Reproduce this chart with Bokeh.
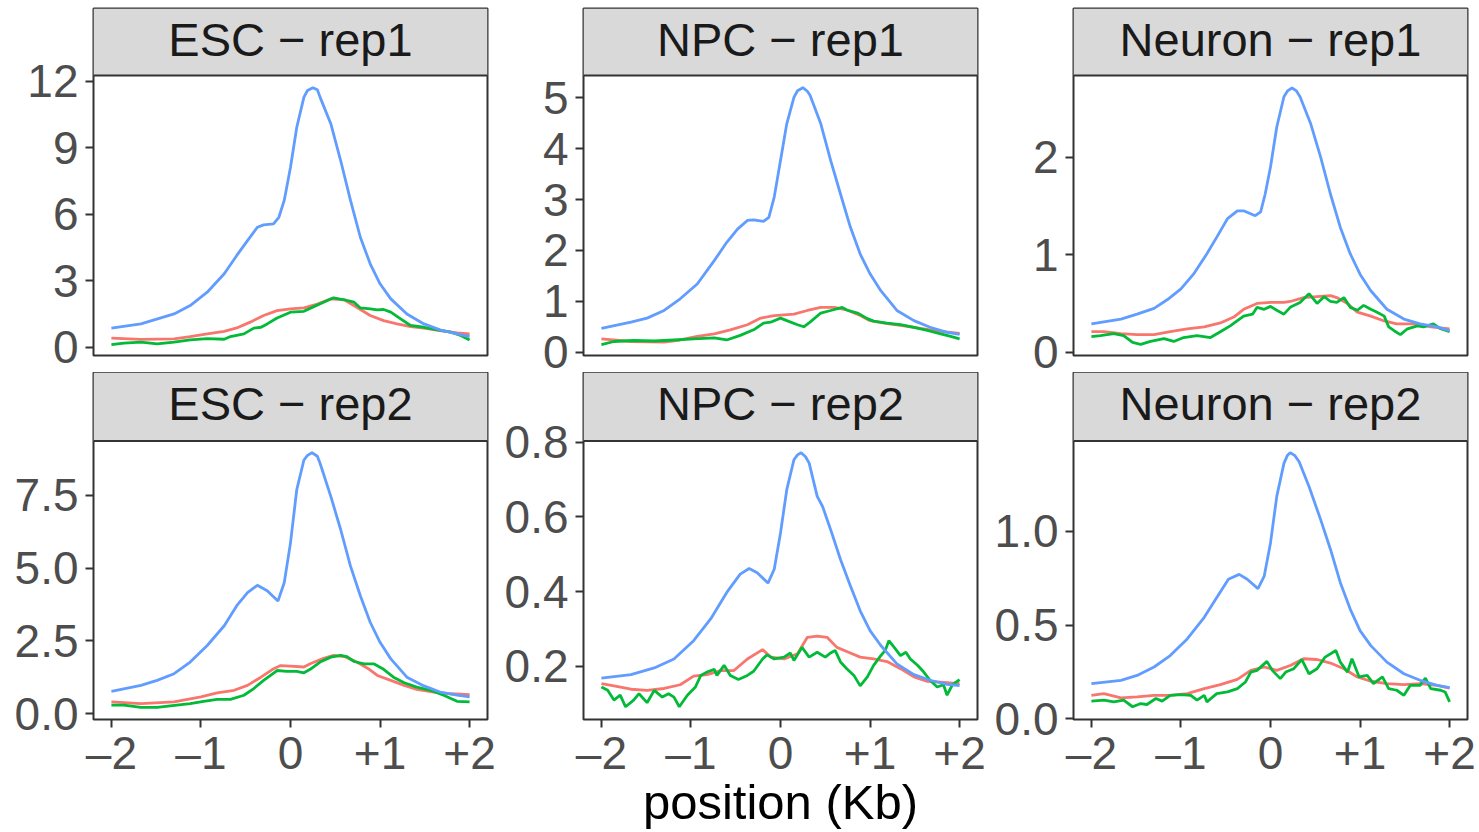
from bokeh.plotting import figure
from bokeh.layouts import gridplot
from bokeh.models import Range1d, FixedTicker, PrintfTickFormatter, Label, Span
from bokeh.embed import file_html
from bokeh.resources import INLINE

FONT = "Liberation Sans"
RED, GREEN, BLUE = "#F8766D", "#00BA38", "#619CFF"

# ---------------- data (position in Kb, signal) ----------------
# ESC - rep1
esc1_blue_x = [-2.00,-1.67,-1.30,-1.12,-0.93,-0.74,-0.60,-0.48,-0.37,-0.30,-0.19,-0.13,-0.07,0.00,0.07,0.15,0.19,0.25,0.30,0.33,0.45,0.56,0.67,0.78,0.89,1.00,1.12,1.30,1.49,1.67,1.86,2.00]
esc1_blue_y = [0.86,1.05,1.50,1.88,2.48,3.31,4.14,4.81,5.41,5.52,5.56,5.86,6.62,8.12,9.92,11.28,11.58,11.70,11.61,11.28,10.08,8.42,6.62,4.96,3.76,2.86,2.18,1.50,1.05,0.78,0.60,0.48]
esc1_red_x = [-2.00,-1.67,-1.30,-1.12,-0.93,-0.74,-0.60,-0.45,-0.30,-0.15,0.00,0.15,0.30,0.45,0.60,0.74,0.89,1.04,1.19,1.34,1.49,1.67,1.86,2.00]
esc1_red_y = [0.41,0.35,0.38,0.48,0.60,0.71,0.87,1.13,1.43,1.65,1.73,1.77,1.95,2.18,2.14,1.80,1.43,1.20,1.05,0.93,0.86,0.75,0.65,0.60]
esc1_green_x = [-2.00,-1.86,-1.67,-1.49,-1.30,-1.12,-0.93,-0.74,-0.67,-0.52,-0.41,-0.33,-0.26,-0.15,0.00,0.15,0.26,0.37,0.48,0.60,0.71,0.78,0.89,0.97,1.04,1.12,1.23,1.34,1.49,1.64,1.79,1.90,2.00]
esc1_green_y = [0.12,0.18,0.23,0.15,0.23,0.33,0.39,0.36,0.48,0.60,0.86,0.90,1.05,1.32,1.58,1.62,1.83,2.03,2.23,2.14,2.03,1.77,1.73,1.68,1.70,1.58,1.28,0.98,0.90,0.78,0.68,0.53,0.33]

# NPC - rep1
npc1_blue_x = [-2.00,-1.67,-1.49,-1.30,-1.12,-0.93,-0.74,-0.60,-0.48,-0.37,-0.30,-0.19,-0.13,-0.07,0.00,0.07,0.15,0.19,0.25,0.30,0.33,0.45,0.56,0.67,0.78,0.89,1.00,1.12,1.30,1.49,1.67,1.86,2.00]
npc1_blue_y = [0.47,0.59,0.67,0.82,1.05,1.34,1.80,2.16,2.42,2.59,2.60,2.57,2.65,3.05,3.77,4.49,5.01,5.14,5.20,5.13,5.05,4.49,3.77,3.11,2.46,1.93,1.54,1.21,0.82,0.62,0.49,0.39,0.35]
npc1_red_x = [-2.00,-1.67,-1.30,-1.12,-0.93,-0.74,-0.56,-0.37,-0.22,-0.07,0.15,0.30,0.45,0.60,0.74,0.89,1.00,1.19,1.38,1.56,1.79,2.00]
npc1_red_y = [0.26,0.21,0.20,0.24,0.31,0.36,0.44,0.54,0.67,0.72,0.75,0.82,0.88,0.88,0.83,0.72,0.62,0.56,0.52,0.47,0.41,0.37]
npc1_green_x = [-2.00,-1.86,-1.64,-1.41,-1.19,-0.97,-0.74,-0.60,-0.45,-0.30,-0.19,-0.11,0.00,0.07,0.19,0.26,0.33,0.45,0.56,0.69,0.74,0.86,0.97,1.04,1.19,1.34,1.49,1.64,1.79,1.90,2.00]
npc1_green_y = [0.15,0.21,0.23,0.22,0.24,0.26,0.28,0.24,0.33,0.44,0.57,0.59,0.67,0.62,0.54,0.50,0.59,0.77,0.82,0.88,0.83,0.77,0.66,0.61,0.57,0.54,0.49,0.43,0.36,0.31,0.26]

# Neuron - rep1
neu1_blue_x = [-2.00,-1.67,-1.49,-1.30,-1.15,-1.00,-0.86,-0.71,-0.60,-0.48,-0.37,-0.30,-0.17,-0.11,-0.06,0.00,0.07,0.15,0.19,0.24,0.29,0.33,0.45,0.56,0.67,0.78,0.89,1.00,1.12,1.30,1.49,1.67,1.86,2.00]
neu1_blue_y = [0.29,0.34,0.39,0.45,0.54,0.65,0.80,1.01,1.18,1.37,1.45,1.45,1.40,1.44,1.62,1.90,2.31,2.62,2.68,2.71,2.68,2.62,2.34,2.00,1.62,1.28,1.01,0.80,0.63,0.44,0.34,0.29,0.26,0.22]
neu1_red_x = [-2.00,-1.86,-1.67,-1.49,-1.30,-1.12,-0.93,-0.74,-0.56,-0.41,-0.30,-0.15,0.00,0.15,0.22,0.37,0.52,0.67,0.74,0.86,0.97,1.12,1.27,1.41,1.64,1.79,2.00]
neu1_red_y = [0.21,0.21,0.19,0.18,0.18,0.21,0.24,0.26,0.30,0.36,0.44,0.50,0.51,0.51,0.52,0.56,0.57,0.58,0.56,0.50,0.41,0.37,0.32,0.29,0.29,0.26,0.24]
neu1_green_x = [-2.00,-1.90,-1.75,-1.64,-1.54,-1.45,-1.34,-1.19,-1.08,-0.97,-0.82,-0.67,-0.56,-0.45,-0.30,-0.20,-0.15,-0.07,0.00,0.07,0.15,0.22,0.33,0.43,0.52,0.60,0.67,0.74,0.82,0.89,0.97,1.04,1.12,1.19,1.27,1.32,1.38,1.45,1.53,1.64,1.71,1.82,1.90,2.00]
neu1_green_y = [0.16,0.17,0.19,0.17,0.10,0.08,0.11,0.14,0.11,0.15,0.17,0.15,0.21,0.27,0.37,0.39,0.46,0.44,0.47,0.43,0.39,0.46,0.51,0.60,0.50,0.57,0.52,0.51,0.56,0.46,0.43,0.48,0.44,0.41,0.37,0.26,0.22,0.18,0.24,0.27,0.26,0.29,0.24,0.21]

# ESC - rep2
esc2_blue_x = [-2.00,-1.67,-1.49,-1.30,-1.12,-0.93,-0.74,-0.60,-0.48,-0.37,-0.26,-0.14,-0.07,0.00,0.07,0.15,0.19,0.24,0.30,0.33,0.45,0.56,0.67,0.78,0.89,1.00,1.12,1.30,1.49,1.67,1.86,2.00]
esc2_blue_y = [0.76,0.97,1.14,1.37,1.77,2.34,3.02,3.71,4.16,4.41,4.22,3.87,4.50,5.87,7.70,8.72,8.88,8.97,8.85,8.61,7.47,6.33,5.07,4.05,3.14,2.45,1.88,1.25,0.95,0.74,0.63,0.57]
esc2_red_x = [-2.00,-1.67,-1.30,-1.00,-0.82,-0.63,-0.48,-0.33,-0.20,-0.11,0.00,0.15,0.22,0.37,0.48,0.60,0.74,0.86,0.97,1.12,1.27,1.41,1.60,1.79,2.00]
esc2_red_y = [0.40,0.34,0.40,0.57,0.71,0.80,0.97,1.25,1.52,1.65,1.63,1.60,1.71,1.90,2.00,1.96,1.77,1.56,1.31,1.14,0.97,0.83,0.74,0.68,0.65]
esc2_green_x = [-2.00,-1.86,-1.67,-1.49,-1.27,-1.12,-0.97,-0.82,-0.67,-0.52,-0.41,-0.30,-0.15,-0.04,0.07,0.15,0.22,0.33,0.45,0.56,0.63,0.71,0.82,0.93,1.04,1.15,1.27,1.41,1.56,1.71,1.86,2.00]
esc2_green_y = [0.29,0.29,0.21,0.21,0.29,0.34,0.42,0.49,0.49,0.63,0.86,1.14,1.48,1.45,1.45,1.40,1.52,1.77,1.94,2.00,1.96,1.79,1.71,1.71,1.52,1.25,1.06,0.91,0.80,0.63,0.42,0.40]

# NPC - rep2
npc2_blue_x = [-2.00,-1.67,-1.41,-1.19,-0.97,-0.78,-0.60,-0.45,-0.35,-0.26,-0.14,-0.07,0.00,0.07,0.15,0.19,0.23,0.28,0.32,0.41,0.47,0.56,0.67,0.78,0.89,1.00,1.12,1.30,1.49,1.67,1.86,2.00]
npc2_blue_y = [0.169,0.178,0.196,0.220,0.269,0.327,0.398,0.447,0.462,0.451,0.423,0.460,0.557,0.673,0.753,0.766,0.772,0.761,0.744,0.655,0.628,0.566,0.486,0.416,0.349,0.296,0.256,0.207,0.178,0.163,0.152,0.149]
npc2_red_x = [-2.00,-1.86,-1.67,-1.49,-1.30,-1.12,-0.97,-0.82,-0.67,-0.52,-0.37,-0.20,-0.11,0.04,0.19,0.30,0.41,0.52,0.63,0.74,0.89,1.04,1.19,1.34,1.49,1.64,1.79,2.00]
npc2_red_y = [0.154,0.148,0.139,0.136,0.141,0.151,0.174,0.178,0.189,0.189,0.220,0.245,0.225,0.220,0.234,0.278,0.281,0.278,0.251,0.240,0.225,0.220,0.213,0.194,0.172,0.160,0.158,0.154]
npc2_green_x = [-2.00,-1.93,-1.86,-1.79,-1.73,-1.64,-1.58,-1.49,-1.41,-1.32,-1.25,-1.19,-1.13,-1.04,-0.95,-0.89,-0.82,-0.74,-0.71,-0.63,-0.56,-0.47,-0.37,-0.30,-0.20,-0.15,-0.07,0.04,0.11,0.15,0.24,0.32,0.41,0.50,0.56,0.61,0.67,0.74,0.82,0.89,0.97,1.04,1.12,1.17,1.21,1.27,1.34,1.40,1.45,1.53,1.60,1.67,1.75,1.82,1.86,1.92,2.00]
npc2_green_y = [0.145,0.136,0.110,0.123,0.092,0.110,0.127,0.103,0.136,0.118,0.127,0.118,0.092,0.123,0.145,0.176,0.185,0.192,0.176,0.203,0.176,0.165,0.176,0.187,0.220,0.231,0.220,0.225,0.236,0.216,0.251,0.225,0.238,0.225,0.236,0.243,0.212,0.194,0.176,0.148,0.172,0.203,0.229,0.243,0.269,0.251,0.229,0.238,0.220,0.203,0.185,0.163,0.145,0.151,0.123,0.151,0.165]

# Neuron - rep2
neu2_blue_x = [-2.00,-1.67,-1.49,-1.30,-1.12,-0.93,-0.74,-0.60,-0.47,-0.35,-0.26,-0.14,-0.07,0.00,0.07,0.15,0.19,0.22,0.27,0.32,0.43,0.56,0.67,0.78,0.89,1.00,1.12,1.30,1.49,1.67,1.86,2.00]
neu2_blue_y = [0.187,0.205,0.231,0.276,0.337,0.426,0.541,0.647,0.744,0.770,0.744,0.694,0.761,0.938,1.186,1.362,1.406,1.419,1.405,1.371,1.239,1.062,0.903,0.726,0.585,0.470,0.390,0.302,0.240,0.205,0.178,0.166]
neu2_red_x = [-2.00,-1.86,-1.67,-1.49,-1.30,-1.12,-0.93,-0.74,-0.56,-0.37,-0.22,-0.07,0.07,0.22,0.37,0.52,0.67,0.82,0.97,1.12,1.30,1.49,1.67,1.86,2.00]
neu2_red_y = [0.125,0.134,0.111,0.117,0.125,0.125,0.134,0.161,0.182,0.210,0.258,0.276,0.258,0.284,0.320,0.316,0.297,0.267,0.223,0.200,0.187,0.182,0.187,0.178,0.164]
neu2_green_x = [-2.00,-1.86,-1.75,-1.64,-1.54,-1.45,-1.38,-1.28,-1.21,-1.12,-1.00,-0.89,-0.82,-0.74,-0.71,-0.60,-0.48,-0.37,-0.28,-0.22,-0.15,-0.04,0.02,0.11,0.17,0.26,0.35,0.43,0.52,0.61,0.73,0.78,0.86,0.91,0.99,1.08,1.15,1.25,1.32,1.41,1.49,1.56,1.67,1.73,1.79,1.90,1.95,2.00]
neu2_green_y = [0.094,0.099,0.090,0.099,0.064,0.081,0.076,0.108,0.094,0.125,0.129,0.125,0.099,0.125,0.090,0.134,0.143,0.161,0.196,0.249,0.258,0.306,0.258,0.214,0.249,0.267,0.316,0.240,0.267,0.329,0.364,0.302,0.249,0.320,0.223,0.231,0.187,0.223,0.161,0.152,0.125,0.178,0.178,0.217,0.161,0.152,0.143,0.090]

panel_titles = ["ESC \u2212 rep1", "NPC \u2212 rep1", "Neuron \u2212 rep1",
                "ESC \u2212 rep2", "NPC \u2212 rep2", "Neuron \u2212 rep2"]
y_ticks = [[0, 3, 6, 9, 12], [0, 1, 2, 3, 4, 5], [0, 1, 2],
           [0, 2.5, 5, 7.5], [0.2, 0.4, 0.6, 0.8], [0, 0.5, 1.0]]
y_formats = ["%d", "%d", "%d", "%.1f", "%.1f", "%.1f"]
y_limits = [(-0.374, 12.255), (-0.065, 5.44), (-0.034, 2.838),
            (-0.205, 9.37), (0.058, 0.803), (-0.004, 1.481)]
x_ticks = [-2, -1, 0, 1, 2]
x_tick_labels = ["\u20132", "\u20131", "0", "+1", "+2"]
x_title = "position (Kb)"

series = [
    [(esc1_red_x, esc1_red_y), (esc1_green_x, esc1_green_y), (esc1_blue_x, esc1_blue_y)],
    [(npc1_red_x, npc1_red_y), (npc1_green_x, npc1_green_y), (npc1_blue_x, npc1_blue_y)],
    [(neu1_red_x, neu1_red_y), (neu1_green_x, neu1_green_y), (neu1_blue_x, neu1_blue_y)],
    [(esc2_red_x, esc2_red_y), (esc2_green_x, esc2_green_y), (esc2_blue_x, esc2_blue_y)],
    [(npc2_red_x, npc2_red_y), (npc2_green_x, npc2_green_y), (npc2_blue_x, npc2_blue_y)],
    [(neu2_red_x, neu2_red_y), (neu2_green_x, neu2_green_y), (neu2_blue_x, neu2_blue_y)],
]
colors = [RED, GREEN, BLUE]

PLOT_H = 280
TICK_FS = "46px"
STRIP_FS = "47px"
TITLE_FS = "49px"
XMIN, XMAX = -2.2, 2.2

# row layout: (top border, strip height, bottom border)
ROW_CFG = [(8, 67, 17), (0, 69, 110)]
# column layout: (left border, right border)
COL_CFG = [(93, 11), (85, 11), (85, 11)]
FRAME_W = 394


def make_panel(i):
    r, c = divmod(i, 3)
    top_b, strip_h, bot_b = ROW_CFG[r]
    left_b, right_b = COL_CFG[c]
    bottom = (r == 1)
    lo, hi = y_limits[i]
    strip_top = hi + strip_h / PLOT_H * (hi - lo)
    kw = {} if bottom else {"x_axis_type": None}
    p = figure(width=left_b + FRAME_W + right_b, height=top_b + strip_h + PLOT_H + bot_b,
               x_range=Range1d(XMIN, XMAX), y_range=Range1d(lo, strip_top),
               toolbar_location=None, output_backend="svg",
               min_border_left=left_b, min_border_right=right_b,
               min_border_top=top_b, min_border_bottom=bot_b, **kw)
    p.xgrid.visible = False
    p.ygrid.visible = False
    p.background_fill_color = "white"
    p.border_fill_color = "white"
    p.outline_line_color = "#333333"
    p.outline_line_width = 2

    # facet strip
    p.quad(left=[XMIN], right=[XMAX], bottom=[hi], top=[strip_top],
           fill_color="#D9D9D9", line_color=None)
    p.add_layout(Span(location=hi, dimension="width", line_color="#333333", line_width=2))
    p.add_layout(Label(x=0, y=(hi + strip_top) / 2, text=panel_titles[i],
                       text_align="center", text_baseline="middle", y_offset=3,
                       text_font=FONT, text_font_size=STRIP_FS, text_color="#1A1A1A"))

    axes = [p.yaxis[0]]
    yax = p.yaxis[0]
    yax.ticker = FixedTicker(ticks=y_ticks[i])
    yax.formatter = PrintfTickFormatter(format=y_formats[i])
    yax.major_label_standoff = 7
    if bottom:
        xax = p.xaxis[0]
        xax.ticker = FixedTicker(ticks=x_ticks)
        xax.major_label_overrides = {t: l for t, l in zip(x_ticks, x_tick_labels)}
        xax.major_label_standoff = -1
        axes.append(xax)
        if c == 1:
            xax.axis_label = x_title
            xax.axis_label_text_font = FONT
            xax.axis_label_text_font_size = TITLE_FS
            xax.axis_label_text_font_style = "normal"
            xax.axis_label_text_color = "black"
            xax.axis_label_standoff = -7
    for ax in axes:
        ax.axis_line_color = None
        ax.major_tick_line_color = "#333333"
        ax.major_tick_line_width = 2
        ax.major_tick_out = 8
        ax.major_tick_in = 0
        ax.minor_tick_line_color = None
        ax.major_label_text_font = FONT
        ax.major_label_text_font_size = TICK_FS
        ax.major_label_text_color = "#4D4D4D"

    for (xs, ys), col in zip(series[i], colors):
        p.line(xs, ys, line_color=col, line_width=2.8)
    return p


panels = [make_panel(i) for i in range(6)]
grid = gridplot([panels[0:3], panels[3:6]], toolbar_location=None)

open("out.html", "w").write(file_html(grid, INLINE))
